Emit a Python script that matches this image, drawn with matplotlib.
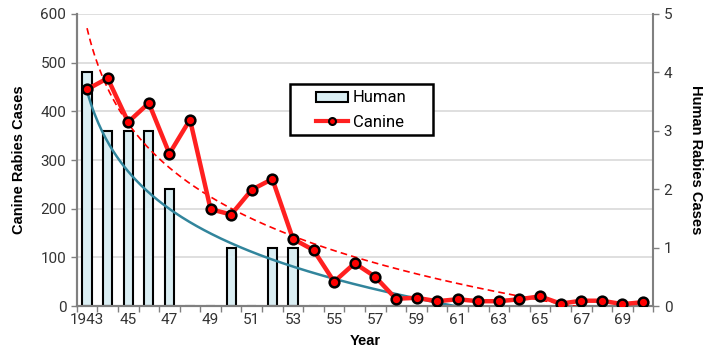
import numpy as np
import matplotlib
matplotlib.use("Agg")
import matplotlib.pyplot as plt
from matplotlib.lines import Line2D
from matplotlib.patches import Patch, Rectangle

years = list(range(1943, 1971))
canine = [445, 468, 378, 417, 313, 383, 199, 188, 239, 261, 138, 115, 50, 88,
          60, 15, 17, 10, 14, 10, 10, 14, 20, 5, 11, 11, 4, 8]
human = [4, 3, 3, 3, 2, 0, 0, 1, 0, 1, 1, 0, 0, 0,
         0, 0, 0, 0, 0, 0, 0, 0, 0, 0, 0, 0, 0, 0]
tick_labels = ["1943", "45", "47", "49", "51", "53", "55", "57", "59",
               "61", "63", "65", "67", "69"]
left_ticks = [0, 100, 200, 300, 400, 500, 600]
right_ticks = [0, 1, 2, 3, 4, 5]


def log_trend(values, xs):
    # Excel-style logarithmic trendline: y = a*ln(n) + b, n = 1..N
    n = np.arange(1, len(values) + 1)
    a, b = np.polyfit(np.log(n), values, 1)
    return a * np.log(xs) + b


def main():
    W, H = 704, 349
    fig = plt.figure(figsize=(W / 100, H / 100), dpi=100)
    ax = fig.add_axes([0.109, 0.123, 0.819, 0.837])
    ax2 = ax.twinx()
    ax.set_zorder(ax2.get_zorder() + 1)
    ax.patch.set_visible(False)

    x = np.array(years)
    tick_font = "Roboto"
    grey = "#808080"

    # gridlines behind the bars (drawn on the human axis)
    for v in left_ticks[1:]:
        ax2.axhline(v / 120, color="#d9d9d9", lw=1.2, zorder=0)

    ax2.bar(x, human, width=0.45, color="#daeef3", edgecolor="black",
            linewidth=1.5, zorder=2)
    fine = np.linspace(1, len(years), 300)
    ax2.plot(fine + years[0] - 1, log_trend(human, fine), color="#31859c",
             lw=1.8, zorder=3)

    ax.plot(fine + years[0] - 1, log_trend(canine, fine), color="#ff0000",
            lw=1.2, ls=(0, (4, 2.5)), zorder=3)
    ax.plot(x, canine, color="#ff2020", lw=3.2, marker="o", markersize=7,
            markerfacecolor="#ff0000", markeredgecolor="black",
            markeredgewidth=1.8, zorder=4)

    ax.set_xlim(years[0] - 0.5, years[-1] + 0.5)
    ax.set_ylim(0, 600)
    ax2.set_ylim(0, 5)
    ax.set_yticks(left_ticks)
    ax2.set_yticks(right_ticks)

    # tick marks at category boundaries, labels at every other category
    ax.set_xticks(np.arange(years[0] - 0.5, years[-1] + 0.6, 1))
    ax.set_xticklabels([])
    ax.tick_params(axis="x", which="major", length=4, width=1, color=grey)
    ax.set_xticks(x[::2], minor=True)
    ax.set_xticklabels(tick_labels, minor=True, fontsize=11, family=tick_font,
                       color="#333333")
    ax.tick_params(axis="x", which="minor", length=0, pad=5)

    ax.tick_params(axis="y", length=4, width=1, color=grey, labelsize=11,
                   labelcolor="#333333")
    ax2.tick_params(axis="y", length=4, width=1, color=grey, labelsize=11,
                    labelcolor="#333333")
    for lab in ax.get_yticklabels() + ax2.get_yticklabels():
        lab.set_family(tick_font)

    for a in (ax, ax2):
        a.spines["top"].set_visible(False)
        for s in ("left", "right", "bottom"):
            a.spines[s].set_color(grey)
            a.spines[s].set_linewidth(1.5)
    ax.spines["right"].set_visible(False)

    ax.set_ylabel("Canine Rabies Cases", fontsize=10.5, fontweight="bold",
                  family="Liberation Sans", labelpad=10)
    ax2.set_ylabel("Human Rabies Cases", fontsize=10.5, fontweight="bold",
                   family="Liberation Sans", rotation=-90, labelpad=22)
    ax.set_xlabel("Year", fontsize=10.5, fontweight="bold",
                  family="Liberation Sans", labelpad=5)

    # legend frame, wider than its contents as in the original
    ax.add_patch(Rectangle((290 / W, 1 - 135 / H), 143 / W, 51 / H,
                           transform=fig.transFigure, facecolor="white",
                           edgecolor="black", linewidth=1.8, zorder=5,
                           clip_on=False))
    handles = [Patch(facecolor="#daeef3", edgecolor="black", linewidth=1.5),
               Line2D([], [], color="#ff2020", lw=3, marker="o", markersize=5,
                      markerfacecolor="#ff0000", markeredgecolor="black",
                      markeredgewidth=1.5)]
    leg = ax.legend(handles, ["Human", "Canine"], loc="center left",
                    bbox_to_anchor=(316 / W, 1 - 110 / H),
                    bbox_transform=fig.transFigure, frameon=False,
                    handlelength=1.9, handleheight=0.55, borderpad=0,
                    labelspacing=0.55, handletextpad=0.3, borderaxespad=0,
                    prop={"family": tick_font, "size": 12})
    leg.set_zorder(6)

    fig.savefig("out.png", dpi=100)


if __name__ == "__main__":
    main()
